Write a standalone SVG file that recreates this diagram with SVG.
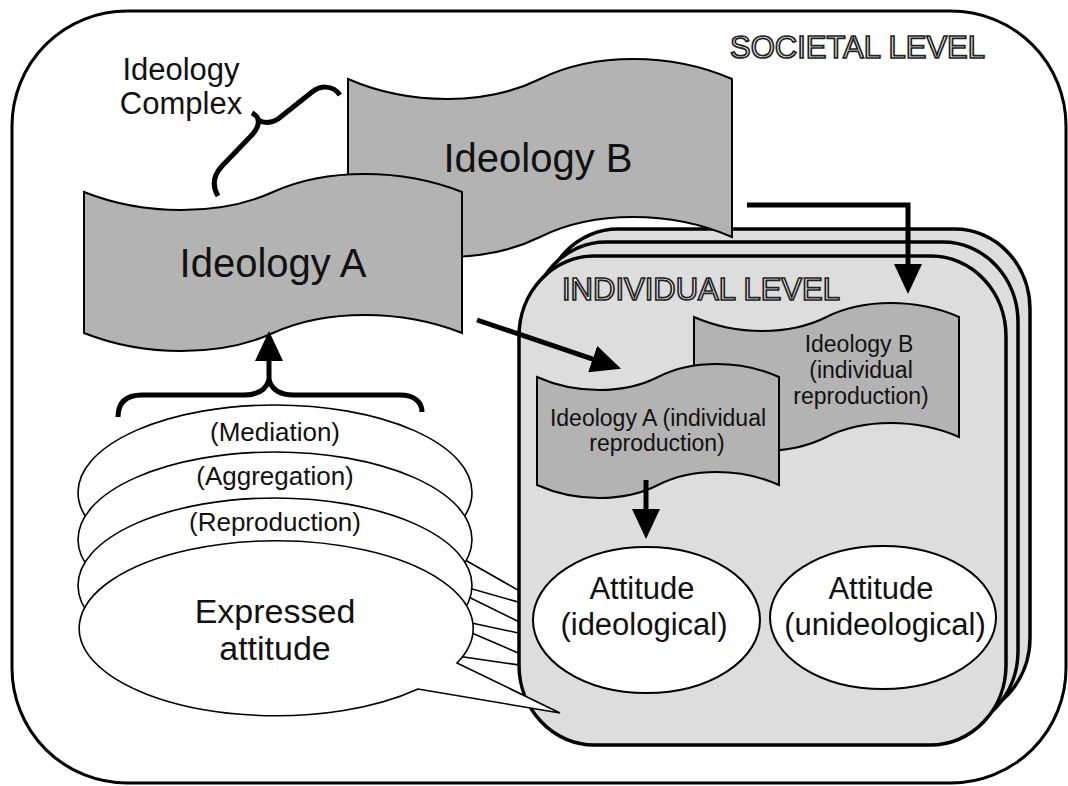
<svg xmlns="http://www.w3.org/2000/svg" width="1068" height="786" viewBox="0 0 1068 786">
  <style>
    .frame { fill:#ffffff; stroke:#000; stroke-width:3; }
    .panel { fill:#dddddd; stroke:#000; stroke-width:3.5; }
    .flag { fill:#b3b3b3; stroke:#000; stroke-width:2; }
    .bubble { fill:#ffffff; stroke:#000; stroke-width:1.6; }
    .att { fill:#ffffff; stroke:#000; stroke-width:2; }
    .lbl { font-family:"Liberation Sans", Arial, sans-serif; fill:#111; text-anchor:middle; }
    .hollow { font-family:"Liberation Sans", Arial, sans-serif; font-size:31px; fill:#ffffff; stroke:#222; stroke-width:1.7; }
    .conn { fill:none; stroke:#000; stroke-width:5; }
    .brace { fill:none; stroke:#000; stroke-width:5; stroke-linejoin:round; }
  </style>
  <defs>
    <marker id="head" markerUnits="userSpaceOnUse" markerWidth="30" markerHeight="28" viewBox="0 0 30 28" refX="1" refY="14" orient="auto">
      <path d="M0,0 L30,14 L0,28 Z" fill="#000"/>
    </marker>
  </defs>

  <!-- societal level frame -->
  <g id="societal-level">
    <rect class="frame" x="12" y="11" width="1054" height="772" rx="115" ry="115"/>
    <text class="hollow" x="730" y="58">SOCIETAL LEVEL</text>
  </g>

  <!-- stacked expression bubbles (back layers) -->
  <g id="bubble-mediation">
    <ellipse class="bubble" cx="275" cy="492.5" rx="197" ry="87.5"/>
    <polygon class="bubble" points="430,540 560,614 430,577"/>
  </g>
  <g id="bubble-aggregation">
    <ellipse class="bubble" cx="275" cy="539.5" rx="197" ry="87.5"/>
    <polygon class="bubble" points="430,578 560,642 430,614"/>
  </g>
  <g id="bubble-reproduction">
    <ellipse class="bubble" cx="275" cy="585.5" rx="197" ry="87.5"/>
    <polygon class="bubble" points="430,615 560,671 430,652"/>
  </g>

  <!-- individual level panels -->
  <g id="individual-level">
    <rect class="panel" x="543" y="229" width="487" height="489" rx="75" ry="80"/>
    <rect class="panel" x="531" y="242" width="487" height="489" rx="75" ry="80"/>
    <rect class="panel" x="519" y="256" width="487" height="489" rx="75" ry="80"/>
    <text class="hollow" x="562" y="300">INDIVIDUAL LEVEL</text>
  </g>

  <!-- societal ideologies -->
  <g id="ideology-b">
    <path class="flag" d="M348,79 C409.4,105.6 486.2,105.6 540,79 C593.8,52.4 670.6,52.4 732,79 L732,237 C670.6,210.4 593.8,210.4 540,237 C486.2,263.6 409.4,263.6 348,237 Z"/>
    <text class="lbl" x="538" y="172" font-size="40">Ideology B</text>
  </g>
  <g id="ideology-a">
    <path class="flag" d="M84,192 C144.5,216 220,216 273,192 C326,168 401.5,168 462,192 L462,333 C401.5,309 326,309 273,333 C220,357 144.5,357 84,333 Z"/>
    <text class="lbl" x="273" y="277" font-size="40">Ideology A</text>
  </g>

  <!-- individual reproductions -->
  <g id="ideology-b-individual">
    <path class="flag" d="M694,317 C736.4,335.6 789.4,335.6 826.5,317 C863.6,298.4 916.6,298.4 959,317 L959,437 C916.6,418.4 863.6,418.4 826.5,437 C789.4,455.6 736.4,455.6 694,437 Z"/>
    <text class="lbl" font-size="23"><tspan x="859" y="352">Ideology B</tspan><tspan x="861" y="378">(individual</tspan><tspan x="861" y="404">reproduction)</tspan></text>
  </g>
  <g id="ideology-a-individual">
    <path class="flag" d="M537,377 C575.7,394.3 624.1,394.3 658,377 C691.9,359.7 740.3,359.7 779,377 L779,485 C740.3,467.7 691.9,467.7 658,485 C624.1,502.3 575.7,502.3 537,485 Z"/>
    <text class="lbl" font-size="23"><tspan x="658" y="426">Ideology A (individual</tspan><tspan x="657" y="451">reproduction)</tspan></text>
  </g>

  <!-- attitudes -->
  <g id="attitude-ideological">
    <ellipse class="att" cx="646.5" cy="620" rx="113.5" ry="73"/>
    <text class="lbl" font-size="31"><tspan x="642" y="599">Attitude</tspan><tspan x="644" y="635">(ideological)</tspan></text>
  </g>
  <g id="attitude-unideological">
    <ellipse class="att" cx="883" cy="617.5" rx="113" ry="71.5"/>
    <text class="lbl" font-size="31"><tspan x="881" y="599">Attitude</tspan><tspan x="885" y="635">(unideological)</tspan></text>
  </g>

  <!-- front bubble: expressed attitude -->
  <g id="bubble-expressed">
    <path class="bubble" d="M457,663 A197,87.5 0 1 0 418,689 L560,713 Z"/>
    <text class="lbl" font-size="34"><tspan x="275" y="623">Expressed</tspan><tspan x="275" y="660">attitude</tspan></text>
  </g>

  <!-- bubble labels -->
  <g id="bubble-labels" class="lbl" font-size="26">
    <text x="275" y="441">(Mediation)</text>
    <text x="275" y="485">(Aggregation)</text>
    <text x="275" y="531">(Reproduction)</text>
  </g>

  <!-- ideology complex label -->
  <g id="ideology-complex">
    <text class="lbl" font-size="31"><tspan x="181" y="80">Ideology</tspan><tspan x="181" y="114">Complex</tspan></text>
    <path class="brace" d="M218,196 C212,186 213,176 222,166 L250,137 C257,130 259,124 258,120 C258,117 256,115 252,113 M258,120 C263,123 270,124 278,119 L312,92 C320,86 332,84 340,95"/>
  </g>

  <!-- connectors -->
  <g id="connectors">
    <path class="brace" d="M118,417 C118,402 126,395 142,395 L244,395 C258,395 266,390 269,380 C272,390 280,395 294,395 L400,395 C414,395 422,402 422,412"/>
    <line class="conn" x1="269" y1="381" x2="269" y2="360" marker-end="url(#head)"/>
    <line class="conn" x1="477" y1="320" x2="593.6" y2="359.4" marker-end="url(#head)"/>
    <path class="conn" d="M747,205 H908 V265" marker-end="url(#head)"/>
    <line class="conn" x1="646" y1="480" x2="646" y2="510" marker-end="url(#head)"/>
  </g>
</svg>
